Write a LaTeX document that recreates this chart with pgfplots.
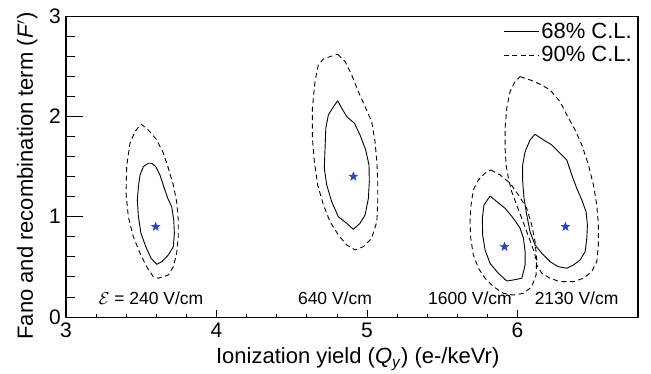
\documentclass[border=0pt]{standalone}
\usepackage{pgfplots}
\pgfplotsset{compat=1.18}
\usepackage{fontspec}
\setmainfont{Liberation Sans}
\definecolor{starblue}{RGB}{45,75,175}
\pgfdeclareplotmark{fstar}{%
  \pgfpathmoveto{\pgfpointpolar{90}{\pgfplotmarksize}}%
  \pgfpathlineto{\pgfpointpolar{126}{0.42\pgfplotmarksize}}%
  \pgfpathlineto{\pgfpointpolar{162}{\pgfplotmarksize}}%
  \pgfpathlineto{\pgfpointpolar{198}{0.42\pgfplotmarksize}}%
  \pgfpathlineto{\pgfpointpolar{234}{\pgfplotmarksize}}%
  \pgfpathlineto{\pgfpointpolar{270}{0.42\pgfplotmarksize}}%
  \pgfpathlineto{\pgfpointpolar{306}{\pgfplotmarksize}}%
  \pgfpathlineto{\pgfpointpolar{342}{0.42\pgfplotmarksize}}%
  \pgfpathlineto{\pgfpointpolar{18}{\pgfplotmarksize}}%
  \pgfpathlineto{\pgfpointpolar{54}{0.42\pgfplotmarksize}}%
  \pgfpathclose
  \pgfusepathqfillstroke}
\begin{document}
\begin{tikzpicture}
% overlay axis: long y ticks only
\begin{axis}[
  at={(0pt,0pt)}, anchor=south west,
  width=572pt, height=301pt, scale only axis,
  xmin=3, xmax=6.8, ymin=0, ymax=3,
  xtick=\empty, ytick={0,1,2,3}, yticklabels={},
  minor y tick num=4,
  tick align=inside, tick pos=left,
  major tick length=17pt, minor tick length=8.5pt,
  every tick/.style={line width=0.8pt, black},
  axis line style={line width=1pt},
]
\end{axis}
\begin{axis}[
  at={(0pt,0pt)}, anchor=south west,
  width=572pt, height=301pt, scale only axis,
  xmin=3, xmax=6.8, ymin=0, ymax=3,
  xtick={3,4,5,6}, ytick={0,1,2,3},
  minor tick num=4,
  tick align=inside, tick pos=left,
  major tick length=7pt, minor tick length=3.5pt,
  every tick/.style={line width=0.8pt, black},
  axis line style={line width=1pt},
  ticklabel style={font=\fontsize{21}{24}\selectfont},
  /pgf/number format/assume math mode=true,
  xticklabel style={inner sep=0pt, yshift=-6pt},
  yticklabel style={inner sep=0pt, xshift=-5pt},
  xlabel={Ionization yield (\textit{Q}\textsubscript{\textit{y}}) (e-/keVr)},
  ylabel={Fano and recombination term (\textit{F}$'$)},
  xlabel style={font=\fontsize{22}{26}\selectfont, at={(axis description cs:0.51,-0.156)}, anchor=base},
  ylabel style={font=\fontsize{22}{26}\selectfont, at={(axis description cs:-0.0577,0.468)}, anchor=base},
  legend style={at={(axis description cs:0.993,0.985)}, anchor=north east, draw=none, fill=none,
    font=\fontsize{22}{24}\selectfont, inner sep=0pt, row sep=3pt},
  legend cell align=left,
  legend image code/.code={\draw[#1] (0pt,0pt) -- (35pt,0pt);},
  clip=false,
  every axis plot/.append style={line width=0.9pt},
]
% 240 V/cm
\addplot[black, no marks] coordinates {
(3.547,1.532)(3.514,1.499)(3.492,1.416)(3.481,1.299)(3.474,1.166)(3.481,1.000)(3.498,0.834)
(3.530,0.701)(3.565,0.585)(3.603,0.525)(3.636,0.551)(3.680,0.618)(3.713,0.701)(3.720,0.834)
(3.716,0.967)(3.702,1.100)(3.676,1.183)(3.653,1.283)(3.624,1.416)(3.596,1.499)(3.569,1.532)(3.547,1.532)};
\addlegendentry{68\% C.L.}
\addplot[black, no marks, dash pattern=on 5pt off 3.5pt] coordinates {
(3.498,1.924)(3.547,1.864)(3.603,1.765)(3.647,1.632)(3.680,1.483)(3.713,1.316)(3.735,1.150)
(3.746,0.967)(3.746,0.801)(3.735,0.635)(3.713,0.501)(3.680,0.419)(3.613,0.386)(3.580,0.402)
(3.536,0.501)(3.492,0.635)(3.447,0.801)(3.414,1.000)(3.399,1.233)(3.403,1.499)(3.425,1.732)
(3.458,1.848)(3.498,1.924)};
\addlegendentry{90\% C.L.}
% 640 V/cm
\addplot[black, no marks, forget plot] coordinates {
(4.805,2.154)(4.832,2.081)(4.865,1.997)(4.916,1.931)(4.953,1.815)(4.991,1.665)(5.013,1.515)
(5.015,1.349)(5.009,1.183)(4.987,1.017)(4.953,0.934)(4.909,0.874)(4.865,0.934)(4.809,1.000)
(4.765,1.150)(4.732,1.316)(4.716,1.483)(4.721,1.682)(4.726,1.881)(4.743,2.014)(4.777,2.097)(4.805,2.154)};
\addplot[black, no marks, dash pattern=on 5pt off 3.5pt, forget plot] coordinates {
(4.805,2.619)(4.854,2.546)(4.898,2.413)(4.942,2.246)(4.987,2.097)(5.031,1.947)(5.053,1.748)
(5.065,1.548)(5.071,1.349)(5.071,1.150)(5.065,0.950)(5.031,0.785)(4.975,0.701)(4.920,0.668)
(4.865,0.718)(4.809,0.818)(4.754,0.950)(4.710,1.117)(4.672,1.316)(4.650,1.548)(4.637,1.782)
(4.637,2.081)(4.654,2.346)(4.676,2.512)(4.710,2.572)(4.754,2.595)(4.805,2.619)};
% 1600 V/cm
\addplot[black, no marks, forget plot] coordinates {
(5.817,1.206)(5.862,1.150)(5.917,1.083)(5.972,0.984)(6.017,0.884)(6.039,0.785)(6.050,0.651)
(6.050,0.518)(6.028,0.386)(5.972,0.369)(5.928,0.359)(5.872,0.436)(5.817,0.535)(5.784,0.668)
(5.768,0.818)(5.766,0.984)(5.777,1.117)(5.817,1.206)};
\addplot[black, no marks, dash pattern=on 5pt off 3.5pt, forget plot] coordinates {
(5.822,1.466)(5.884,1.416)(5.950,1.333)(6.006,1.216)(6.061,1.083)(6.094,0.917)(6.116,0.751)
(6.127,0.585)(6.123,0.419)(6.094,0.302)(6.039,0.236)(5.972,0.219)(5.906,0.236)(5.840,0.302)
(5.784,0.386)(5.740,0.486)(5.706,0.618)(5.689,0.785)(5.684,0.950)(5.691,1.117)(5.706,1.266)
(5.740,1.366)(5.784,1.433)(5.822,1.466)};
% 2130 V/cm
\addplot[black, no marks, forget plot] coordinates {
(6.116,1.821)(6.172,1.765)(6.227,1.715)(6.282,1.632)(6.327,1.565)(6.360,1.416)(6.393,1.283)
(6.427,1.166)(6.455,1.050)(6.464,0.917)(6.460,0.785)(6.449,0.651)(6.415,0.568)(6.371,0.518)
(6.327,0.486)(6.271,0.501)(6.216,0.551)(6.161,0.635)(6.116,0.718)(6.083,0.850)(6.061,1.017)
(6.043,1.183)(6.034,1.349)(6.034,1.515)(6.050,1.648)(6.083,1.765)(6.116,1.821)};
\addplot[black, no marks, dash pattern=on 5pt off 3.5pt, forget plot] coordinates {
(6.017,2.396)(6.083,2.363)(6.150,2.320)(6.216,2.263)(6.282,2.147)(6.327,2.014)(6.382,1.864)
(6.427,1.715)(6.471,1.515)(6.504,1.316)(6.526,1.117)(6.537,0.917)(6.537,0.718)(6.526,0.551)
(6.493,0.452)(6.437,0.386)(6.371,0.352)(6.282,0.352)(6.216,0.386)(6.161,0.436)(6.127,0.518)
(6.116,0.618)(6.094,0.718)(6.061,0.850)(6.028,0.984)(5.994,1.117)(5.961,1.249)(5.939,1.383)
(5.924,1.515)(5.917,1.682)(5.917,1.881)(5.928,2.081)(5.950,2.246)(5.983,2.346)(6.017,2.396)};
% best fit points
\addplot[only marks, mark=fstar, mark size=4.6pt, draw=starblue, fill=starblue, line width=0.3pt, forget plot] coordinates {
(3.596,0.90)(4.909,1.40)(5.913,0.70)(6.318,0.90)};
\node[anchor=base, font=\fontsize{17.5}{20}\selectfont] at (axis cs:3.565,0.12) {$\mathcal{E}$ = 240 V/cm};
\node[anchor=base, font=\fontsize{17.5}{20}\selectfont] at (axis cs:4.787,0.12) {640 V/cm};
\node[anchor=base, font=\fontsize{17.5}{20}\selectfont] at (axis cs:5.684,0.12) {1600 V/cm};
\node[anchor=base, font=\fontsize{17.5}{20}\selectfont] at (axis cs:6.392,0.12) {2130 V/cm};
\end{axis}
\pgfresetboundingbox
\path[use as bounding box] (-66pt,-56pt) rectangle (585pt,317pt);
\end{tikzpicture}
\end{document}
